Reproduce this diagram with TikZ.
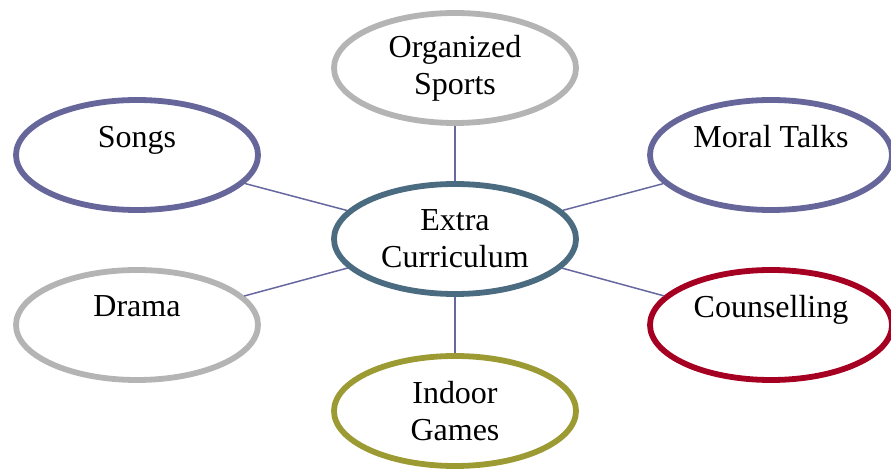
\documentclass[tikz,border=0pt]{standalone}
\usepackage{fontspec}
\setmainfont{Liberation Serif}
\usepackage{xcolor}
\usepackage{tikz}
\usetikzlibrary{shapes.geometric}
\definecolor{hubteal}{HTML}{4A6B80}
\definecolor{lavender}{HTML}{66669A}
\definecolor{silver}{HTML}{B4B4B4}
\definecolor{crimson}{HTML}{A50021}
\definecolor{olive}{HTML}{9C9A32}
\definecolor{linkblue}{HTML}{6868A0}

\begin{document}
\begin{tikzpicture}[
    x=0.5pt, y=-0.5pt,
    bubble/.style={
        ellipse,
        fill=white,
        line width=2.9pt,
        minimum width=121pt,
        minimum height=55pt,
        inner sep=0pt,
        align=center,
        font=\fontsize{16}{18.5}\selectfont
    },
    link/.style={draw=linkblue, line width=0.75pt}
]
    \clip (0,0) rectangle (891,470);
    \useasboundingbox (0,0) rectangle (891,470);

    % Hub
    \node[bubble, draw=hubteal] (extra) at (455,239) {Extra\\Curriculum};

    % Top and bottom
    \node[bubble, draw=silver] (sports) at (455,68) {Organized\\Sports};
    \node[bubble, draw=olive] (indoor) at (455,411) {Indoor\\Games};

    % Left side
    \node[bubble, draw=lavender] (songs) at (137,155) {Songs\\\mbox{}};
    \node[bubble, draw=silver] (drama) at (137,325) {Drama\\\mbox{}};

    % Right side
    \node[bubble, draw=lavender] (moral) at (771,155) {Moral Talks\\\mbox{}};
    \node[bubble, draw=crimson] (counsel) at (771,325) {Counselling\\\mbox{}};

    % Links
    \foreach \leaf in {sports,indoor,songs,drama,moral,counsel}
        \draw[link] (extra) -- (\leaf);
\end{tikzpicture}
\end{document}
